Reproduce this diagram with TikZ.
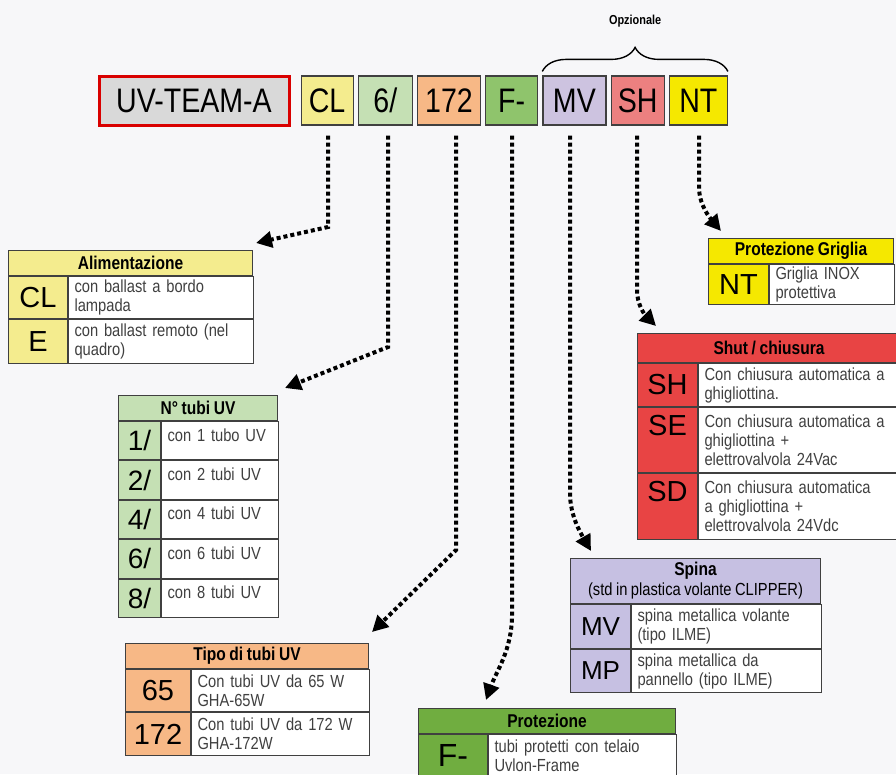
\documentclass[tikz,border=0pt]{standalone}
\usepackage{fontspec}
\setmainfont[FakeStretch=0.84,WordSpace=0.85]{Liberation Sans}
\newfontfamily\codefont{Liberation Sans}
\usepackage{tikz}
\usetikzlibrary{arrows.meta,positioning,decorations.pathreplacing}
\tikzset{>/.tip={Triangle[length=16pt,width=16pt]}}
\definecolor{bg}{RGB}{247,247,249}
\definecolor{cl}{RGB}{244,236,142}
\definecolor{tubi}{RGB}{197,224,180}
\definecolor{tipo}{RGB}{247,184,134}
\definecolor{prot}{RGB}{143,196,108}
\definecolor{protD}{RGB}{112,173,64}
\definecolor{spina}{RGB}{205,195,224}
\definecolor{spinaD}{RGB}{198,192,226}
\definecolor{shut}{RGB}{236,128,128}
\definecolor{shutD}{RGB}{232,68,68}
\definecolor{grig}{RGB}{245,232,0}
\tikzset{
  codebox/.style={draw=black!75,line width=1.2pt,minimum height=49pt,inner sep=0pt,font=\fontsize{34}{34}\selectfont},
  head/.style={draw=black!75,line width=1pt,anchor=north west,inner sep=0pt,align=center,font=\bfseries\fontsize{18.5}{20}\selectfont},
  key/.style={draw=black!75,line width=1pt,anchor=north west,inner sep=0pt,font=\codefont\fontsize{29}{29}\selectfont},
  info/.style={draw=black!75,line width=1pt,fill=white,anchor=north west,inner xsep=6pt,inner ysep=0pt,align=left,text=black!75,font=\fontsize{17.5}{19}\selectfont},
  link/.style={line width=4pt,dash pattern=on 4pt off 3pt,shorten <=10pt,->}
}
\begin{document}
\begin{tikzpicture}[x=1pt,y=-1pt,node distance=4pt]
  \fill[bg] (0,0) rectangle (896,774);
  \useasboundingbox (0,0) rectangle (896,774);

  \node[codebox,draw=red!85!black,line width=3pt,fill=black!15,minimum width=190pt] (uv) at (194,100.5) {UV-TEAM-A};
  \node[codebox,fill=cl,minimum width=52pt,right=10pt of uv] (cCL) {CL};
  \node[codebox,fill=tubi,minimum width=54pt,right=of cCL] (c6) {6/};
  \node[codebox,fill=tipo,minimum width=63pt,right=of c6] (c172) {172};
  \node[codebox,fill=prot,minimum width=52pt,right=of c172] (cF) {F-};
  \node[codebox,fill=spina,minimum width=63pt,right=of cF] (cMV) {MV};
  \node[codebox,fill=shut,minimum width=53pt,right=of cMV] (cSH) {SH};
  \node[codebox,fill=grig,minimum width=58pt,right=of cSH] (cNT) {NT};
  \draw[decorate,decoration={brace,amplitude=24pt},line width=1.4pt]
    ([yshift=4pt]cMV.north west) -- ([yshift=4pt]cNT.north east)
    node[midway,above=40pt,font=\bfseries\fontsize{13}{13}\selectfont] (opz) {Opzionale};

  \node[head,fill=cl,minimum width=244pt,minimum height=25pt] (alim) at (8,250) {Alimentazione};
  \node[key,fill=cl,minimum width=59pt,minimum height=42pt] (alimCL) at (alim.south west) {CL};
  \node[info,text width=173pt,minimum height=42pt] (alimCLt) at (alimCL.north east) {con ballast a bordo\\lampada};
  \node[key,fill=cl,minimum width=59pt,minimum height=44pt] (alimE) at (alimCL.south west) {E};
  \node[info,text width=173pt,minimum height=44pt] (alimEt) at (alimE.north east) {con ballast remoto (nel\\quadro)};

  \node[head,fill=tubi,minimum width=159pt,minimum height=25pt] (tubi) at (118,395) {N° tubi UV};
  \node[key,fill=tubi,minimum width=42pt,minimum height=38.4pt,font=\codefont\fontsize{28}{28}\selectfont] (tubi1) at (tubi.south west) {1/};
  \node[info,text width=105pt,minimum height=38.4pt,text depth=12pt] (tubi1t) at (tubi1.north east) {con 1 tubo UV};
  \node[key,fill=tubi,minimum width=42pt,minimum height=38.4pt,font=\codefont\fontsize{28}{28}\selectfont] (tubi2) at (tubi1.south west) {2/};
  \node[info,text width=105pt,minimum height=38.4pt,text depth=12pt] (tubi2t) at (tubi2.north east) {con 2 tubi UV};
  \node[key,fill=tubi,minimum width=42pt,minimum height=38.4pt,font=\codefont\fontsize{28}{28}\selectfont] (tubi4) at (tubi2.south west) {4/};
  \node[info,text width=105pt,minimum height=38.4pt,text depth=12pt] (tubi4t) at (tubi4.north east) {con 4 tubi UV};
  \node[key,fill=tubi,minimum width=42pt,minimum height=38.4pt,font=\codefont\fontsize{28}{28}\selectfont] (tubi6) at (tubi4.south west) {6/};
  \node[info,text width=105pt,minimum height=38.4pt,text depth=12pt] (tubi6t) at (tubi6.north east) {con 6 tubi UV};
  \node[key,fill=tubi,minimum width=42pt,minimum height=38.4pt,font=\codefont\fontsize{28}{28}\selectfont] (tubi8) at (tubi6.south west) {8/};
  \node[info,text width=105pt,minimum height=38.4pt,text depth=12pt] (tubi8t) at (tubi8.north east) {con 8 tubi UV};

  \node[head,fill=tipo,minimum width=243pt,minimum height=25pt] (tipo) at (125,643) {Tipo di tubi UV};
  \node[key,fill=tipo,minimum width=65pt,minimum height=42pt] (tipo65) at (tipo.south west) {65};
  \node[info,text width=166pt,minimum height=42pt] (tipo65t) at (tipo65.north east) {Con tubi UV da 65 W\\GHA-65W};
  \node[key,fill=tipo,minimum width=65pt,minimum height=43pt] (tipo172) at (tipo65.south west) {172};
  \node[info,text width=166pt,minimum height=43pt] (tipo172t) at (tipo172.north east) {Con tubi UV da 172 W\\GHA-172W};

  \node[head,fill=protD,minimum width=257pt,minimum height=25pt] (prot) at (418,708) {Protezione};
  \node[key,fill=protD,minimum width=69pt,minimum height=42pt,font=\codefont\fontsize{32}{32}\selectfont] (protF) at (prot.south west) {F-};
  \node[info,text width=176pt,minimum height=42pt] (protFt) at (protF.north east) {tubi protetti con telaio\\Uvlon-Frame};

  \node[head,fill=spinaD,minimum width=250pt,minimum height=45pt] (spina) at (570,558) {Spina\\{\normalfont\fontsize{17.5}{19}\selectfont (std in plastica volante CLIPPER)}};
  \node[key,fill=spinaD,minimum width=60pt,minimum height=44pt,font=\codefont\fontsize{26}{26}\selectfont] (spinaMV) at (spina.south west) {MV};
  \node[info,text width=178pt,minimum height=44pt] (spinaMVt) at (spinaMV.north east) {spina metallica volante\\(tipo ILME)};
  \node[key,fill=spinaD,minimum width=60pt,minimum height=43pt,font=\codefont\fontsize{26}{26}\selectfont] (spinaMP) at (spinaMV.south west) {MP};
  \node[info,text width=178pt,minimum height=43pt] (spinaMPt) at (spinaMP.north east) {spina metallica da\\pannello (tipo ILME)};

  \node[head,fill=shutD,minimum width=263pt,minimum height=29pt] (shut) at (637,333) {Shut / chiusura};
  \node[key,fill=shutD,minimum width=60pt,minimum height=43pt] (shutSH) at (shut.south west) {SH};
  \node[info,text width=191pt,minimum height=43pt] (shutSHt) at (shutSH.north east) {Con chiusura automatica a\\ghigliottina.};
  \node[key,fill=shutD,minimum width=60pt,minimum height=65pt,text depth=30pt] (shutSE) at (shutSH.south west) {SE};
  \node[info,text width=191pt,minimum height=65pt] (shutSEt) at (shutSE.north east) {Con chiusura automatica a\\ghigliottina +\\elettrovalvola 24Vac};
  \node[key,fill=shutD,minimum width=60pt,minimum height=66pt,text depth=30pt] (shutSD) at (shutSE.south west) {SD};
  \node[info,text width=191pt,minimum height=66pt] (shutSDt) at (shutSD.north east) {Con chiusura automatica\\a ghigliottina +\\elettrovalvola 24Vdc};

  \node[head,fill=grig,minimum width=185pt,minimum height=25pt] (grig) at (708,238) {Protezione Griglia};
  \node[key,fill=grig,minimum width=60pt,minimum height=40pt] (grigNT) at (grig.south west) {NT};
  \node[info,text width=113pt,minimum height=40pt] (grigNTt) at (grigNT.north east) {Griglia INOX\\protettiva};

  \coordinate (tCL) at (256,243);
  \coordinate (t6) at (285,388);
  \coordinate (t172) at (372,632);
  \coordinate (tF) at (486,700);
  \coordinate (tMV) at (591,551);
  \coordinate (tSH) at (656,326);
  \coordinate (tNT) at (721,231);
  \draw[link] (cCL.south -| 328,0) -- (328,227) -- (tCL);
  \draw[link] (c6.south -| 388,0) -- (388,347) -- (t6);
  \draw[link] (c172.south -| 456,0) -- (456,550) -- (t172);
  \draw[link] (cF.south -| 512,0) -- (512,615) .. controls (512,650) and (496,672) .. (tF);
  \draw[link] (cMV.south -| 570,0) -- (570,493) .. controls (570,515) and (580,532) .. (tMV);
  \draw[link] (cSH.south -| 637,0) -- (637,290) .. controls (637,305) and (645,315) .. (tSH);
  \draw[link] (cNT.south -| 699,0) -- (699,187) .. controls (699,205) and (710,218) .. (tNT);
\end{tikzpicture}
\end{document}
